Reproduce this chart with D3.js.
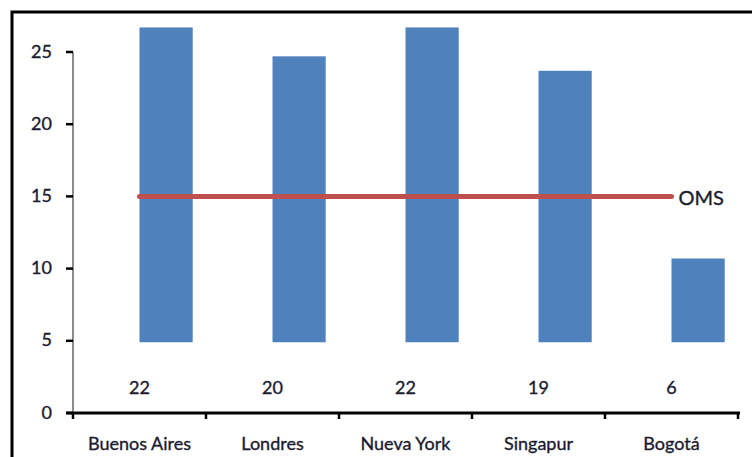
<!DOCTYPE html>
<html>
<head>
<meta charset="utf-8">
<script src="https://cdn.jsdelivr.net/npm/d3@7"></script>
<style>
  body { margin: 0; background: #fff; }
  text { font-family: Lato, "Open Sans", sans-serif; fill: #1b1b2f; stroke: #1b1b2f; stroke-width: 0.35px; }
</style>
</head>
<body>
<div id="chart"></div>
<script>
const cities = ['Buenos Aires', 'Londres', 'Nueva York', 'Singapur', 'Bogotá']
const values = [22, 20, 22, 19, 6]
const barBase = 4.9
const omsLevel = 15
const yTicks = [0, 5, 10, 15, 20, 25]

const dimensions = {
  width: 752,
  height: 457,
  margin: { top: 52, bottom: 44, right: 14, left: 73 }
}
dimensions.ctrWidth = dimensions.width - dimensions.margin.left - dimensions.margin.right
dimensions.ctrHeight = dimensions.height - dimensions.margin.top - dimensions.margin.bottom

const svg = d3.select('#chart')
  .append('svg')
  .attr('width', dimensions.width)
  .attr('height', dimensions.height)

// outer frame (top and left only)
svg.append('path')
  .attr('d', `M12,${dimensions.height} V12 H${dimensions.width}`)
  .attr('fill', 'none')
  .attr('stroke', '#000')
  .attr('stroke-width', 3)

const ctr = svg.append('g')
  .attr('transform', `translate(${dimensions.margin.left}, ${dimensions.margin.top})`)

const xScale = d3.scaleBand()
  .domain(cities)
  .range([0, dimensions.ctrWidth])
  .padding(0)

const yScale = d3.scaleLinear()
  .domain([0, 25])
  .range([dimensions.ctrHeight, 0])

// bars
ctr.selectAll('rect.bar')
  .data(cities)
  .join('rect')
  .attr('class', 'bar')
  .attr('x', d => xScale(d) + xScale.bandwidth() / 2)
  .attr('width', xScale.bandwidth() * 0.4)
  .attr('y', (d, i) => yScale(barBase + values[i] - 0.2))
  .attr('height', (d, i) => yScale(barBase) - yScale(barBase + values[i] - 0.2))
  .attr('fill', '#4f81bd')

// OMS line
const first = cities[0], last = cities[cities.length - 1]
ctr.append('line')
  .attr('x1', xScale(first) + xScale.bandwidth() / 2)
  .attr('x2', xScale(last) + xScale.bandwidth() / 2)
  .attr('y1', yScale(omsLevel))
  .attr('y2', yScale(omsLevel))
  .attr('stroke', '#c0504d')
  .attr('stroke-width', 5)
  .attr('stroke-linecap', 'round')

ctr.append('text')
  .attr('x', xScale(last) + xScale.bandwidth() / 2 + 7)
  .attr('y', yScale(omsLevel) + 4)
  .attr('dominant-baseline', 'middle')
  .style('font-size', '20px')
  .text('OMS')

// value labels
ctr.selectAll('text.val')
  .data(cities)
  .join('text')
  .attr('class', 'val')
  .attr('x', d => xScale(d) + xScale.bandwidth() / 2)
  .attr('y', yScale(1.6))
  .attr('text-anchor', 'middle')
  .attr('dominant-baseline', 'middle')
  .style('font-size', '18px')
  .text((d, i) => values[i])

// y axis
const yAxisGroup = ctr.append('g')
yAxisGroup.append('line')
  .attr('y1', yScale(25))
  .attr('y2', yScale(0))
  .attr('stroke', '#8c8c8c')
  .attr('stroke-width', 2)
yAxisGroup.selectAll('g.tick')
  .data(yTicks)
  .join('g')
  .attr('class', 'tick')
  .attr('transform', d => `translate(0, ${yScale(d)})`)
  .call(g => g.append('line')
    .attr('x1', -7).attr('x2', 0)
    .attr('stroke', '#000').attr('stroke-width', 2.5))
  .call(g => g.append('text')
    .attr('x', -21)
    .attr('y', 1)
    .attr('text-anchor', 'end')
    .attr('dominant-baseline', 'middle')
    .style('font-size', '18px')
    .text(d => d))

// x axis
const xAxisGroup = ctr.append('g')
  .attr('transform', `translate(0, ${dimensions.ctrHeight})`)
xAxisGroup.append('line')
  .attr('x1', -7)
  .attr('x2', dimensions.ctrWidth + 2)
  .attr('stroke', '#000')
  .attr('stroke-width', 3)
const boundaries = cities.map(c => xScale(c)).concat([dimensions.ctrWidth])
xAxisGroup.selectAll('line.tk')
  .data(boundaries)
  .join('line')
  .attr('class', 'tk')
  .attr('x1', d => d).attr('x2', d => d)
  .attr('y1', 0).attr('y2', 6)
  .attr('stroke', '#000')
  .attr('stroke-width', 2.5)
xAxisGroup.selectAll('text')
  .data(cities)
  .join('text')
  .attr('x', d => xScale(d) + xScale.bandwidth() / 2)
  .attr('y', 32)
  .attr('text-anchor', 'middle')
  .attr('dominant-baseline', 'middle')
  .style('font-size', '18px')
  .text(d => d)
</script>
</body>
</html>
